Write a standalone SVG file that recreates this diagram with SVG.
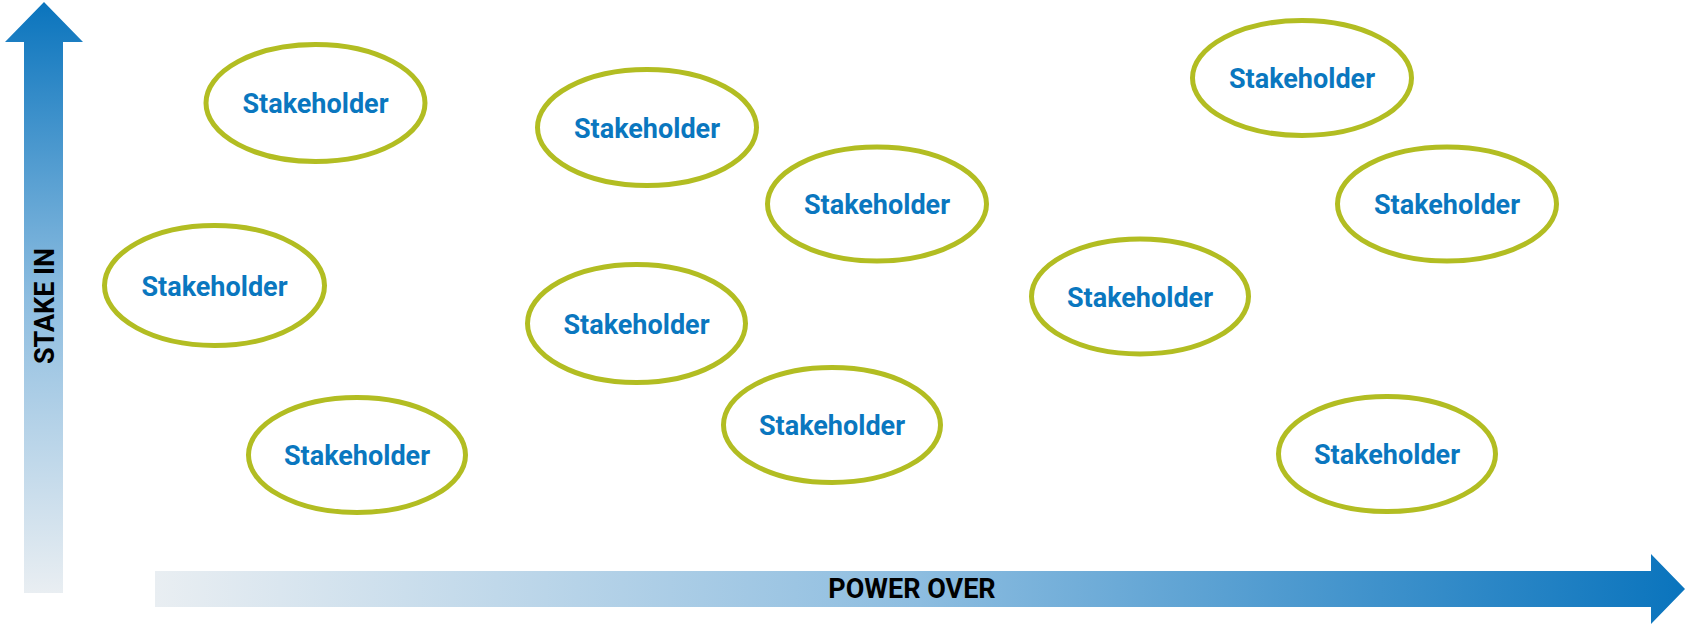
<svg xmlns="http://www.w3.org/2000/svg" width="1685" height="624" viewBox="0 0 1685 624">
  <defs>
    <linearGradient id="gradUp" x1="0" y1="1" x2="0" y2="0">
      <stop offset="0" stop-color="#e9eef2"/>
      <stop offset="0.5" stop-color="#8dbde0"/>
      <stop offset="1" stop-color="#0a74bd"/>
    </linearGradient>
    <linearGradient id="gradRight" x1="0" y1="0" x2="1" y2="0">
      <stop offset="0" stop-color="#e9eef2"/>
      <stop offset="0.5" stop-color="#8dbde0"/>
      <stop offset="1" stop-color="#0a74bd"/>
    </linearGradient>
    <style>
      .bubble { fill: #ffffff; stroke: #b2bd22; stroke-width: 5; }
      .label { font-family: Roboto, "Liberation Sans", sans-serif; font-weight: 700; font-size: 27px; fill: #0a77bf; text-anchor: middle; }
      .axis { font-family: Roboto, "Liberation Sans", sans-serif; font-weight: 700; font-size: 27px; fill: #000000; text-anchor: middle; }
    </style>
  </defs>

  <!-- axes -->
  <g id="axes">
    <g id="axis-stake">
      <polygon points="24,593 24,42 5,42 44,2 83,42 63,42 63,593" fill="url(#gradUp)"/>
      <text class="axis" transform="translate(53.5,306) rotate(-90)" x="0" y="0">STAKE IN</text>
    </g>
    <g id="axis-power">
      <polygon points="155,571 1651,571 1651,554 1685,589 1651,624 1651,607 155,607" fill="url(#gradRight)"/>
      <text class="axis" x="912" y="598">POWER OVER</text>
    </g>
  </g>

  <!-- no connectors in this chart -->
  <g id="connectors"/>

  <!-- stakeholder bubbles -->
  <g id="s1"><ellipse class="bubble" cx="315.5" cy="103" rx="109.5" ry="58.5"/><text class="label" x="315.5" y="113">Stakeholder</text></g>
  <g id="s2"><ellipse class="bubble" cx="647" cy="127.5" rx="109.5" ry="58"/><text class="label" x="647" y="137.5">Stakeholder</text></g>
  <g id="s3"><ellipse class="bubble" cx="877" cy="204" rx="109.5" ry="57"/><text class="label" x="877" y="214">Stakeholder</text></g>
  <g id="s4"><ellipse class="bubble" cx="1302" cy="78" rx="109.5" ry="57.5"/><text class="label" x="1302" y="88">Stakeholder</text></g>
  <g id="s5"><ellipse class="bubble" cx="1447" cy="204" rx="109.5" ry="57"/><text class="label" x="1447" y="214">Stakeholder</text></g>
  <g id="s6"><ellipse class="bubble" cx="214.5" cy="285.5" rx="110" ry="60"/><text class="label" x="214.5" y="295.5">Stakeholder</text></g>
  <g id="s7"><ellipse class="bubble" cx="636.5" cy="323.5" rx="109" ry="59"/><text class="label" x="636.5" y="333.5">Stakeholder</text></g>
  <g id="s8"><ellipse class="bubble" cx="1140" cy="296.5" rx="108.5" ry="57.5"/><text class="label" x="1140" y="306.5">Stakeholder</text></g>
  <g id="s9"><ellipse class="bubble" cx="357" cy="455" rx="108.5" ry="57.5"/><text class="label" x="357" y="465">Stakeholder</text></g>
  <g id="s10"><ellipse class="bubble" cx="832" cy="425" rx="108.5" ry="57.5"/><text class="label" x="832" y="435">Stakeholder</text></g>
  <g id="s11"><ellipse class="bubble" cx="1387" cy="454" rx="108.5" ry="57.5"/><text class="label" x="1387" y="464">Stakeholder</text></g>
</svg>
